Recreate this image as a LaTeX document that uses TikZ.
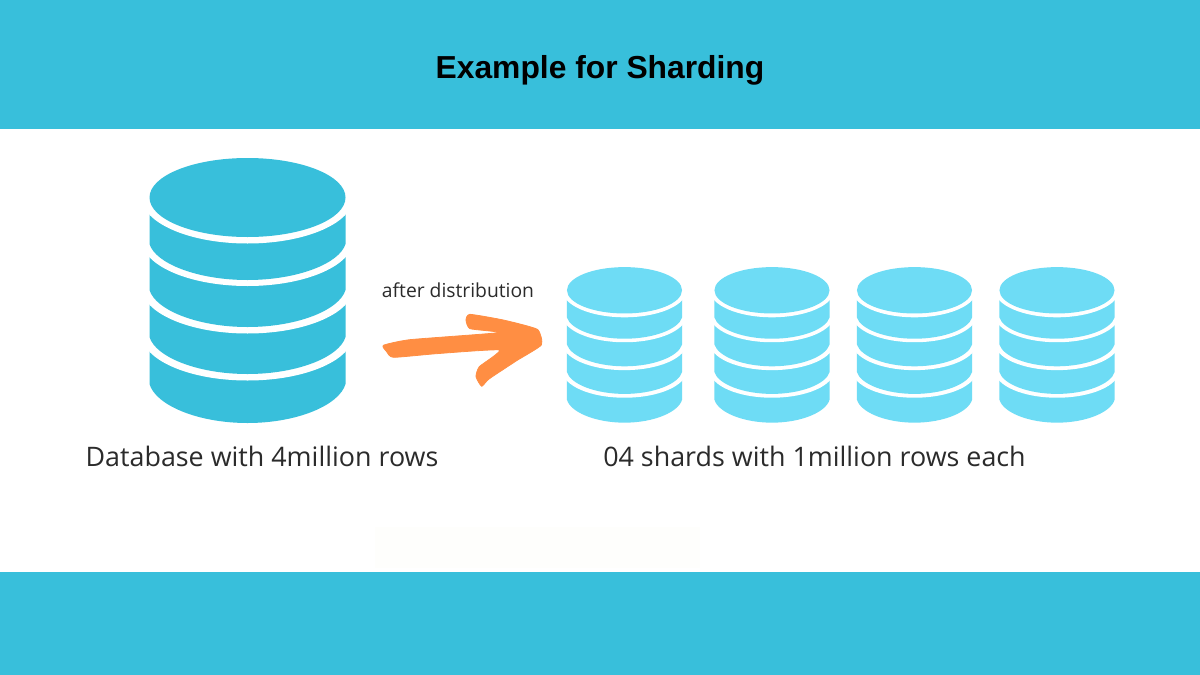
\documentclass[tikz,border=0pt]{standalone}
\usepackage{fontspec}
\setmainfont{Open Sans}
\newfontfamily\titlefont{Liberation Sans}[BoldFont={Liberation Sans Bold}]
\definecolor{band}{HTML}{38BFDB}
\definecolor{lightdb}{HTML}{6EDCF5}
\definecolor{orangearrow}{HTML}{FF8E43}
\definecolor{smudge}{HTML}{FEFEFC}
\definecolor{labeltext}{HTML}{2B2B2B}
\tikzset{
  caption/.style={font=\fontsize{26.85}{30}\selectfont, text=labeltext, inner sep=0pt, anchor=base},
  dbicon/.pic={
    % layers painted from the bottom up: \upper = centre of the white ring above the layer,
    % \s = height where the sides end, \c = lowest point of the layer's bottom arc
    \foreach \upper/\s/\c in {334/387/423,287/340/374,239.5/293/327,197/247/280}{
      \fill[pic actions] (-98,\upper-197) -- (-98,\s-197-3)
        .. controls (-92,{(\s+\c)/2-197}) and (-50,\c-197) .. (0,\c-197)
        .. controls (50,\c-197) and (92,{(\s+\c)/2-197}) .. (98,\s-197-3)
        -- (98,\upper-197) -- cycle;
      \fill[white] (0,\upper-197) ellipse [x radius=106, y radius=46.5];
    }
    \fill[pic actions] (0,0.5) ellipse [x radius=98, y radius=39.5];
  }
}
\begin{document}
\begin{tikzpicture}[x=1pt,y=-1pt]
\useasboundingbox (0,0) rectangle (1200,675);
\fill[white] (0,0) rectangle (1200,675);
\fill[band] (0,0) rectangle (1200,129);
\fill[band] (0,572) rectangle (1200,675);
\fill[smudge] (375,527) rectangle (700,568);
\node[inner sep=0pt, anchor=base, font=\titlefont\bfseries\fontsize{31.8}{36}\selectfont, text=black] (title) at (600,78) {Example for Sharding};
\pic[fill=band] at (247.5,197) {dbicon};
\foreach \cx in {624.5,772,914.5,1057}{
  \pic[fill=lightdb, scale=0.587] at (\cx,290) {dbicon};
}
\node[caption] (bigcap) at (262,466) {Database with 4million rows};
\node[caption] (smallcap) at (814.5,466) {04 shards with 1million rows each};
\node[caption, font=\fontsize{19.3}{22}\selectfont] (afterlabel) at (458,297) {after distribution};
\begin{scope}[shift={(370,270)}, x=0.3333pt, y=-0.3333pt]
\filldraw[orangearrow, line width=0.8pt, line join=round] plot[smooth cycle, tension=0.3] coordinates {
(40,226) (120,209) (385,188) (300,176) (288,150) (300,133) (400,150) (502,178)
(514,225) (440,272) (357,327) (335,349) (318,320) (328,290) (388,240) (200,251) (70,262) (50,245)};
\end{scope}
\end{tikzpicture}
\end{document}
